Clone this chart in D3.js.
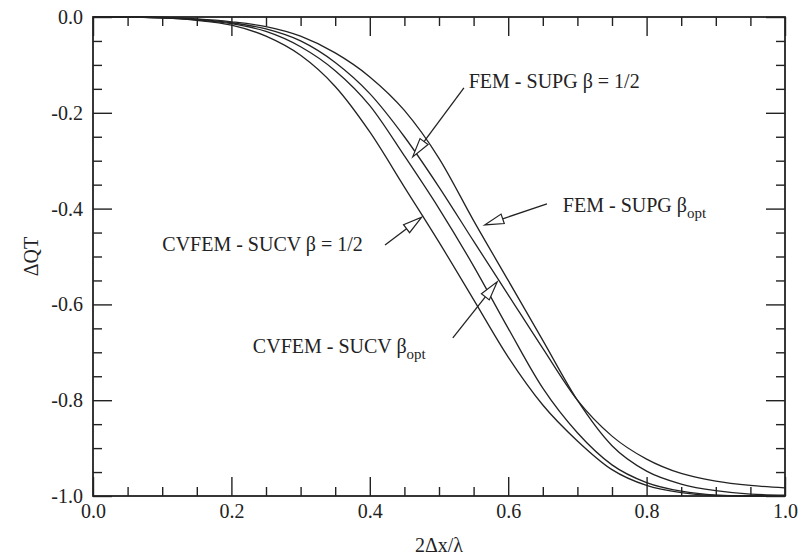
<!DOCTYPE html>
<html>
<head>
<meta charset="utf-8">
<script src="https://cdn.jsdelivr.net/npm/d3@7"></script>
<style>
  body { margin: 0; background: #fff; }
  text { font-family: "Liberation Serif", "Times New Roman", serif; fill: #222; }
</style>
</head>
<body>
<div id="chartDiv"></div>
<script>
// x positions (2Δx/λ)
var xGrid = [0, 0.05, 0.1, 0.15, 0.2, 0.25, 0.3, 0.35, 0.4, 0.45, 0.5,
             0.55, 0.6, 0.65, 0.7, 0.75, 0.8, 0.85, 0.9, 0.95, 1.0];

// ΔQT for each scheme
var cvfemHalf = [0, 0, -0.002, -0.007, -0.017, -0.04, -0.08, -0.145, -0.24, -0.355, -0.47,
                 -0.59, -0.71, -0.81, -0.885, -0.945, -0.978, -0.993, -0.999, -1, -1];
var femHalf = [0, 0, -0.002, -0.006, -0.014, -0.03, -0.062, -0.112, -0.185, -0.29, -0.4,
               -0.52, -0.65, -0.775, -0.868, -0.935, -0.972, -0.99, -0.998, -1, -1];
var cvfemOpt = [0, 0, -0.001, -0.005, -0.012, -0.025, -0.05, -0.095, -0.16, -0.25, -0.355,
                -0.468, -0.58, -0.692, -0.8, -0.875, -0.923, -0.953, -0.969, -0.978, -0.983];
var femOpt = [0, 0, -0.001, -0.004, -0.01, -0.02, -0.04, -0.075, -0.125, -0.195, -0.295,
              -0.425, -0.55, -0.675, -0.8, -0.895, -0.948, -0.975, -0.989, -0.996, -0.998];

var xTicks = [0, 0.2, 0.4, 0.6, 0.8, 1.0];
var yTicks = [0, -0.2, -0.4, -0.6, -0.8, -1.0];
var xMinor = [0.05, 0.1, 0.15, 0.25, 0.3, 0.35, 0.45, 0.5, 0.55, 0.65, 0.7, 0.75, 0.85, 0.9, 0.95];
var yMinor = [-0.05, -0.1, -0.15, -0.25, -0.3, -0.35, -0.45, -0.5, -0.55, -0.65, -0.7, -0.75, -0.85, -0.9, -0.95];

// labels: tip is the point on the curve, tail the far end of the arrow (data units)
var labels = [
  { text: "FEM - SUPG β = 1/2", sub: "", tx: 0.543, ty: -0.148, anchor: "start", tip: [0.462, -0.292], tail: [0.536, -0.148] },
  { text: "FEM - SUPG β", sub: "opt", tx: 0.679, ty: -0.407, anchor: "start", tip: [0.566, -0.434], tail: [0.656, -0.390] },
  { text: "CVFEM - SUCV β = 1/2", sub: "", tx: 0.390, ty: -0.489, anchor: "end", tip: [0.475, -0.418], tail: [0.422, -0.476] },
  { text: "CVFEM - SUCV β", sub: "opt", tx: 0.231, ty: -0.701, anchor: "start", tip: [0.584, -0.553], tail: [0.520, -0.670] }
];

var mLeft = 93, mRight = 785, mTop = 17, mBottom = 496;

var svg = d3.select("#chartDiv").append("svg")
  .attr("width", 801)
  .attr("height", 557);

var x = d3.scaleLinear().domain([0, 1]).range([mLeft, mRight]);
var y = d3.scaleLinear().domain([-1, 0]).range([mBottom, mTop]);

var fmt = function (d) { return d.toFixed(1); };

//Axes (ticks point inward on all four sides)
svg.append("g").attr("transform", "translate(0," + mBottom + ")")
  .call(d3.axisBottom(x).tickValues(xTicks).tickFormat(fmt).tickSizeInner(-19).tickSizeOuter(0).tickPadding(8));
svg.append("g").attr("transform", "translate(0," + mBottom + ")")
  .call(d3.axisBottom(x).tickValues(xMinor).tickFormat("").tickSizeInner(-9).tickSizeOuter(0));
svg.append("g").attr("transform", "translate(0," + mTop + ")")
  .call(d3.axisTop(x).tickValues(xTicks).tickFormat("").tickSizeInner(-19).tickSizeOuter(0));
svg.append("g").attr("transform", "translate(0," + mTop + ")")
  .call(d3.axisTop(x).tickValues(xMinor).tickFormat("").tickSizeInner(-9).tickSizeOuter(0));
svg.append("g").attr("transform", "translate(" + mLeft + ",0)")
  .call(d3.axisLeft(y).tickValues(yTicks).tickFormat(fmt).tickSizeInner(-19).tickSizeOuter(0).tickPadding(10));
svg.append("g").attr("transform", "translate(" + mLeft + ",0)")
  .call(d3.axisLeft(y).tickValues(yMinor).tickFormat("").tickSizeInner(-9).tickSizeOuter(0));
svg.append("g").attr("transform", "translate(" + mRight + ",0)")
  .call(d3.axisRight(y).tickValues(yTicks).tickFormat("").tickSizeInner(-19).tickSizeOuter(0));
svg.append("g").attr("transform", "translate(" + mRight + ",0)")
  .call(d3.axisRight(y).tickValues(yMinor).tickFormat("").tickSizeInner(-9).tickSizeOuter(0));

svg.selectAll(".domain").remove();
svg.selectAll(".tick line").attr("stroke", "#222").attr("stroke-width", 1.4);
svg.selectAll(".tick text")
  .attr("font-family", "Liberation Serif")
  .attr("font-size", 20)
  .attr("fill", "#222");

svg.append("rect")
  .attr("x", mLeft).attr("y", mTop)
  .attr("width", mRight - mLeft).attr("height", mBottom - mTop)
  .attr("fill", "none")
  .attr("stroke", "#222")
  .attr("stroke-width", 1.8);

//Curves
var line = d3.line()
  .x(function (d) { return x(d[0]); })
  .y(function (d) { return y(d[1]); })
  .curve(d3.curveMonotoneX);

[cvfemHalf, femHalf, cvfemOpt, femOpt].forEach(function (s) {
  svg.append("path")
    .datum(xGrid.map(function (v, i) { return [v, s[i]]; }))
    .attr("d", line)
    .attr("fill", "none")
    .attr("stroke", "#222")
    .attr("stroke-width", 1.3);
});

//Arrows with open heads
labels.forEach(function (l) {
  var x1 = x(l.tail[0]), y1 = y(l.tail[1]);
  var x2 = x(l.tip[0]), y2 = y(l.tip[1]);
  var len = Math.sqrt((x2 - x1) * (x2 - x1) + (y2 - y1) * (y2 - y1));
  var ux = (x2 - x1) / len, uy = (y2 - y1) / len;
  var hl = 19, hw = 5;
  var bx = x2 - ux * hl, by = y2 - uy * hl;
  svg.append("line")
    .attr("x1", x1).attr("y1", y1).attr("x2", bx).attr("y2", by)
    .attr("stroke", "#222").attr("stroke-width", 1.3);
  svg.append("path")
    .attr("d", "M" + x2 + "," + y2 +
      "L" + (bx - uy * hw) + "," + (by + ux * hw) +
      "L" + (bx + uy * hw) + "," + (by - ux * hw) + "Z")
    .attr("fill", "#fff")
    .attr("stroke", "#222")
    .attr("stroke-width", 1.2);

  var t = svg.append("text")
    .attr("x", x(l.tx)).attr("y", y(l.ty))
    .attr("text-anchor", l.anchor)
    .attr("font-size", 20)
    .text(l.text);
  if (l.sub) {
    t.append("tspan").attr("dy", 6).attr("font-size", 15).text(l.sub);
  }
});

//Axis titles
svg.append("text")
  .attr("x", (mLeft + mRight) / 2).attr("y", 552)
  .attr("text-anchor", "middle")
  .attr("font-size", 20)
  .text("2Δx/λ");

svg.append("text")
  .attr("transform", "translate(38," + ((mTop + mBottom) / 2) + ") rotate(-90)")
  .attr("text-anchor", "middle")
  .attr("font-size", 20)
  .text("ΔQT");
</script>
</body>
</html>
